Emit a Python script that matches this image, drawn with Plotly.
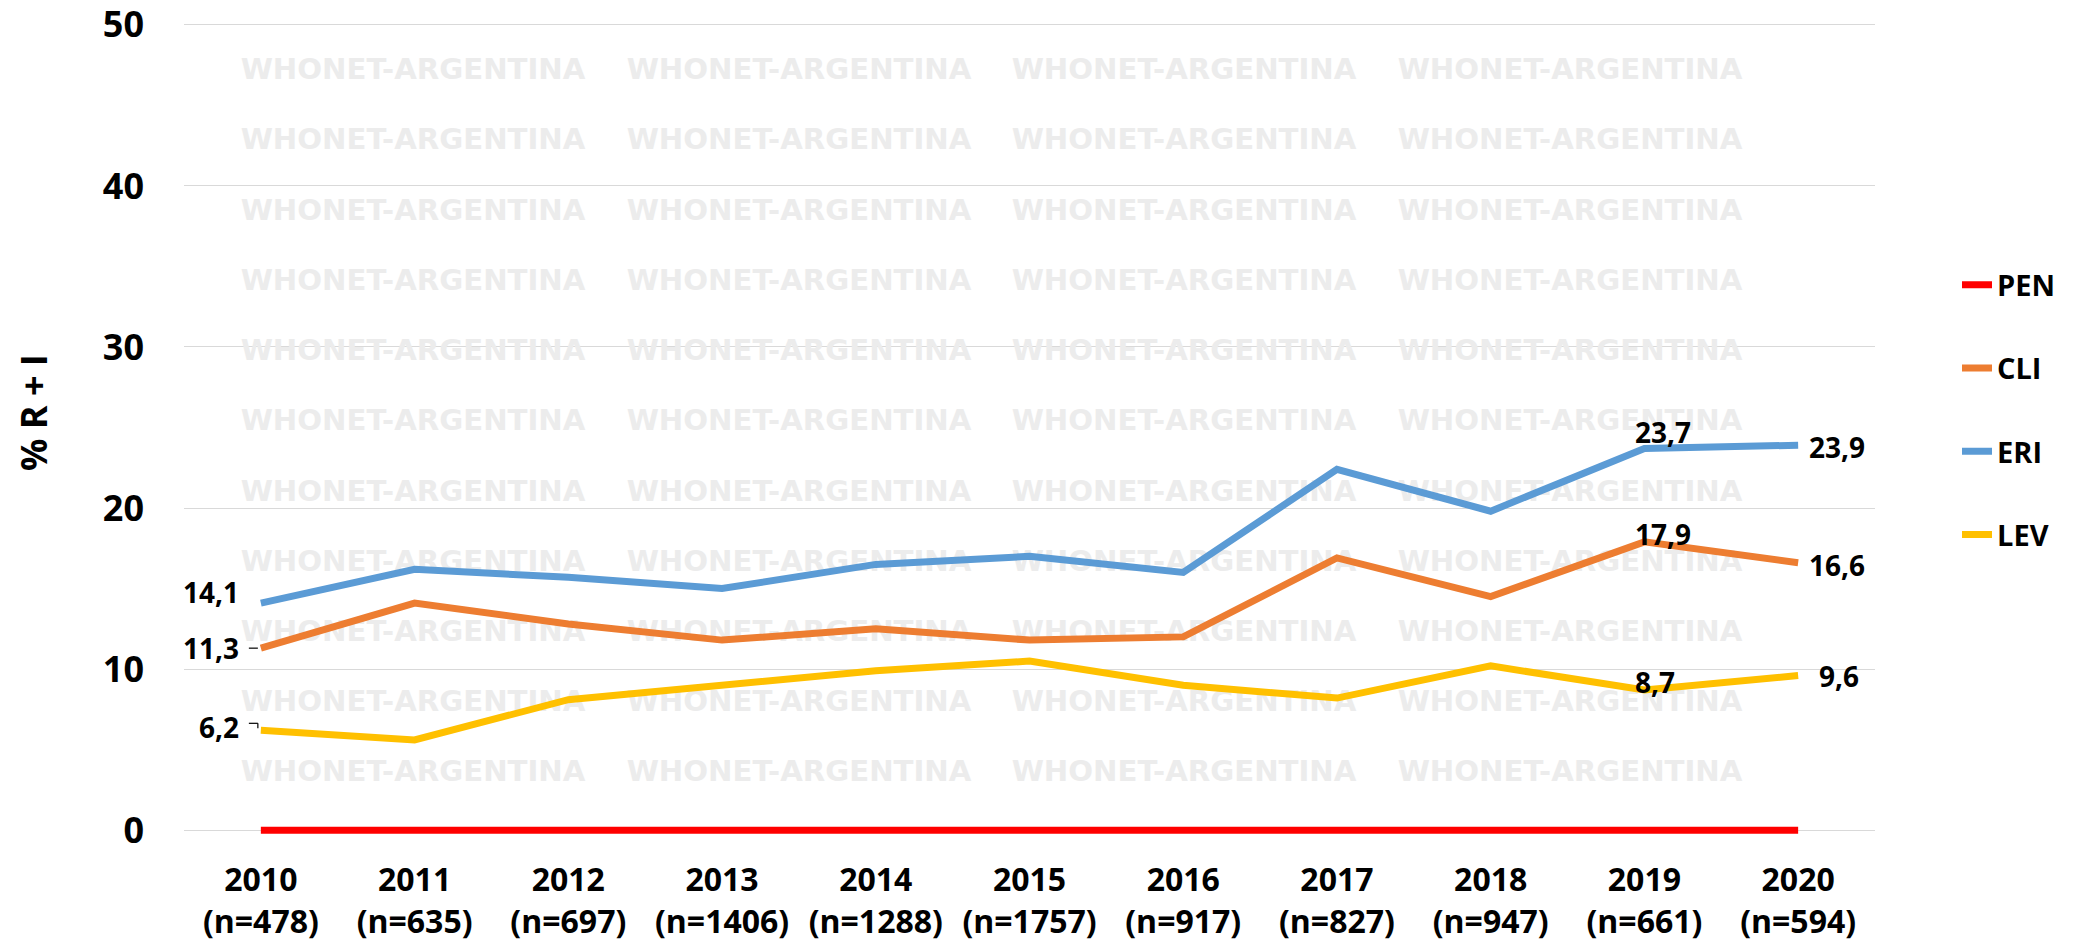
import plotly.graph_objects as go

# ---------------- data ----------------
years = ["2010", "2011", "2012", "2013", "2014", "2015", "2016", "2017", "2018", "2019", "2020"]
n_counts = [478, 635, 697, 1406, 1288, 1757, 917, 827, 947, 661, 594]

pen = [0, 0, 0, 0, 0, 0, 0, 0, 0, 0, 0]
cli = [11.3, 14.1, 12.8, 11.8, 12.5, 11.8, 12.0, 16.9, 14.5, 17.9, 16.6]
eri = [14.1, 16.2, 15.7, 15.0, 16.5, 17.0, 16.0, 22.4, 19.8, 23.7, 23.9]
lev = [6.2, 5.6, 8.1, 9.0, 9.9, 10.5, 9.0, 8.2, 10.2, 8.7, 9.6]

series_names = ["PEN", "CLI", "ERI", "LEV"]
series_values = [pen, cli, eri, lev]
labelled_points = [0, 9, 10]  # indices that carry a data label (not PEN)

y_ticks = [0, 10, 20, 30, 40, 50]
y_title = "% R + I"
watermark = "WHONET-ARGENTINA"

# ---------------- styles ----------------
colors = {"PEN": "#FF0000", "CLI": "#ED7D31", "ERI": "#5B9BD5", "LEV": "#FFC000"}
FONT = "'Open Sans', 'Noto Sans', 'Liberation Sans', sans-serif"

# the page body has an 8px margin: build the figure in window pixels minus it
OFF = 8
W, H = 2075 - OFF, 943 - OFF
y_lo, y_hi = -0.3, 50.3
Y0_PX, Y50_PX = 830.0 - OFF, 25.0 - OFF
PPU = (Y0_PX - Y50_PX) / 50.0
L, R = 184 - OFF, 1875 - OFF
B = Y0_PX - y_lo * PPU
T = Y50_PX - (y_hi - 50) * PPU
x_lo, x_hi = -0.5, len(years) - 0.5


def px_to_x(px):
    return x_lo + (px - OFF - L) / (R - L) * (x_hi - x_lo)


def py_to_y(py):
    return y_lo + (B - (py - OFF)) / (B - T) * (y_hi - y_lo)


def px_to_paper_x(px):
    return (px - OFF - L) / (R - L)


def py_to_paper_y(py):
    return (B - (py - OFF)) / (B - T)


tick_text = [f"{y}<br>(n={n})" for y, n in zip(years, n_counts)]
x_idx = list(range(len(years)))

fig = go.Figure()

# watermark grid (drawn first, below the lines); positions in window pixels
wm_col_centers = [413, 799, 1184, 1570]
wm_rows = [72 + 70.2 * i for i in range(12)]
wx, wy = [], []
for r in wm_rows:
    for c in wm_col_centers:
        wx.append(px_to_x(c))
        wy.append(py_to_y(r))
fig.add_trace(go.Scatter(
    x=wx, y=wy, mode="text", text=[watermark] * len(wx),
    textposition="middle center",
    textfont=dict(family="'DejaVu Sans', sans-serif", size=29.2, color="#ECECEC", weight="bold"),
    cliponaxis=False, hoverinfo="skip", showlegend=False,
))

for name, vals in zip(series_names, series_values):
    fig.add_trace(go.Scatter(
        x=x_idx, y=vals, mode="lines", name=name, legendgroup=name,
        line=dict(color=colors[name], width=7),
        cliponaxis=False,
    ))

# data labels
offsets = {
    "ERI": {0: ("right", -20, 11), 9: ("center", 19, 16), 10: ("left", 9, -2)},
    "CLI": {0: ("right", -20, 0), 9: ("center", 19, 8), 10: ("left", 9, -2)},
    "LEV": {0: ("right", -20, 3), 9: ("center", 11, 8), 10: ("left", 19, 0)},
}
annotations = []
for name, vals in zip(series_names, series_values):
    if name not in offsets:
        continue
    for i in labelled_points:
        anchor, xs, ys = offsets[name][i]
        annotations.append(dict(
            x=x_idx[i], y=vals[i], xref="x", yref="y",
            text=f"{vals[i]:.1f}".replace(".", ","), showarrow=False,
            xanchor=anchor, yanchor="middle", xshift=xs, yshift=ys,
            font=dict(family=FONT, size=28, color="#000000", weight="bold"),
        ))

# y-axis title
annotations.append(dict(
    text=y_title, xref="paper", yref="paper",
    x=px_to_paper_x(34), y=py_to_paper_y(413), xanchor="center", yanchor="middle",
    textangle=-90, showarrow=False,
    font=dict(family=FONT, size=36, color="#000000", weight="bold"),
))

# small leader lines of the first CLI and LEV labels
shapes = [
    dict(type="line", xref="x", yref="y", xsizemode="pixel", ysizemode="pixel",
         xanchor=x_idx[0], yanchor=cli[0], x0=-12, x1=-3, y0=0, y1=0,
         line=dict(color="#000000", width=1.2)),
    dict(type="line", xref="x", yref="y", xsizemode="pixel", ysizemode="pixel",
         xanchor=x_idx[0], yanchor=lev[0], x0=-12, x1=-3, y0=7, y1=7,
         line=dict(color="#000000", width=1.2)),
    dict(type="line", xref="x", yref="y", xsizemode="pixel", ysizemode="pixel",
         xanchor=x_idx[0], yanchor=lev[0], x0=-3, x1=-3, y0=7, y1=2,
         line=dict(color="#000000", width=1.2)),
]

fig.update_layout(
    width=W, height=H,
    margin=dict(l=L, r=W - R, t=T, b=H - B, pad=0, autoexpand=False),
    paper_bgcolor="white", plot_bgcolor="white",
    font=dict(family=FONT, color="#000000"),
    annotations=annotations,
    shapes=shapes,
    showlegend=True,
    legend=dict(
        x=px_to_paper_x(1957), xanchor="left",
        y=py_to_paper_y(410), yanchor="middle",
        font=dict(family=FONT, size=29, color="#000000", weight="bold"),
        traceorder="grouped", tracegroupgap=42.5,
        bgcolor="rgba(0,0,0,0)", borderwidth=0,
    ),
    xaxis=dict(
        range=[x_lo, x_hi], tickmode="array", tickvals=x_idx, ticktext=tick_text,
        showgrid=False, zeroline=False, showline=False, ticks="",
        tickfont=dict(family=FONT, size=32, color="#000000", weight="bold"),
        ticklabelstandoff=23, automargin=False, ticklabeloverflow="allow",
    ),
    yaxis=dict(
        range=[y_lo, y_hi], tickmode="array", tickvals=y_ticks,
        showgrid=True, gridcolor="#D9D9D9", gridwidth=1.3,
        zeroline=False, showline=False, ticks="",
        tickfont=dict(family=FONT, size=36, color="#000000", weight="bold"),
        ticklabelstandoff=39, automargin=False, ticklabeloverflow="allow",
    ),
)

fig.write_html("out.html")
